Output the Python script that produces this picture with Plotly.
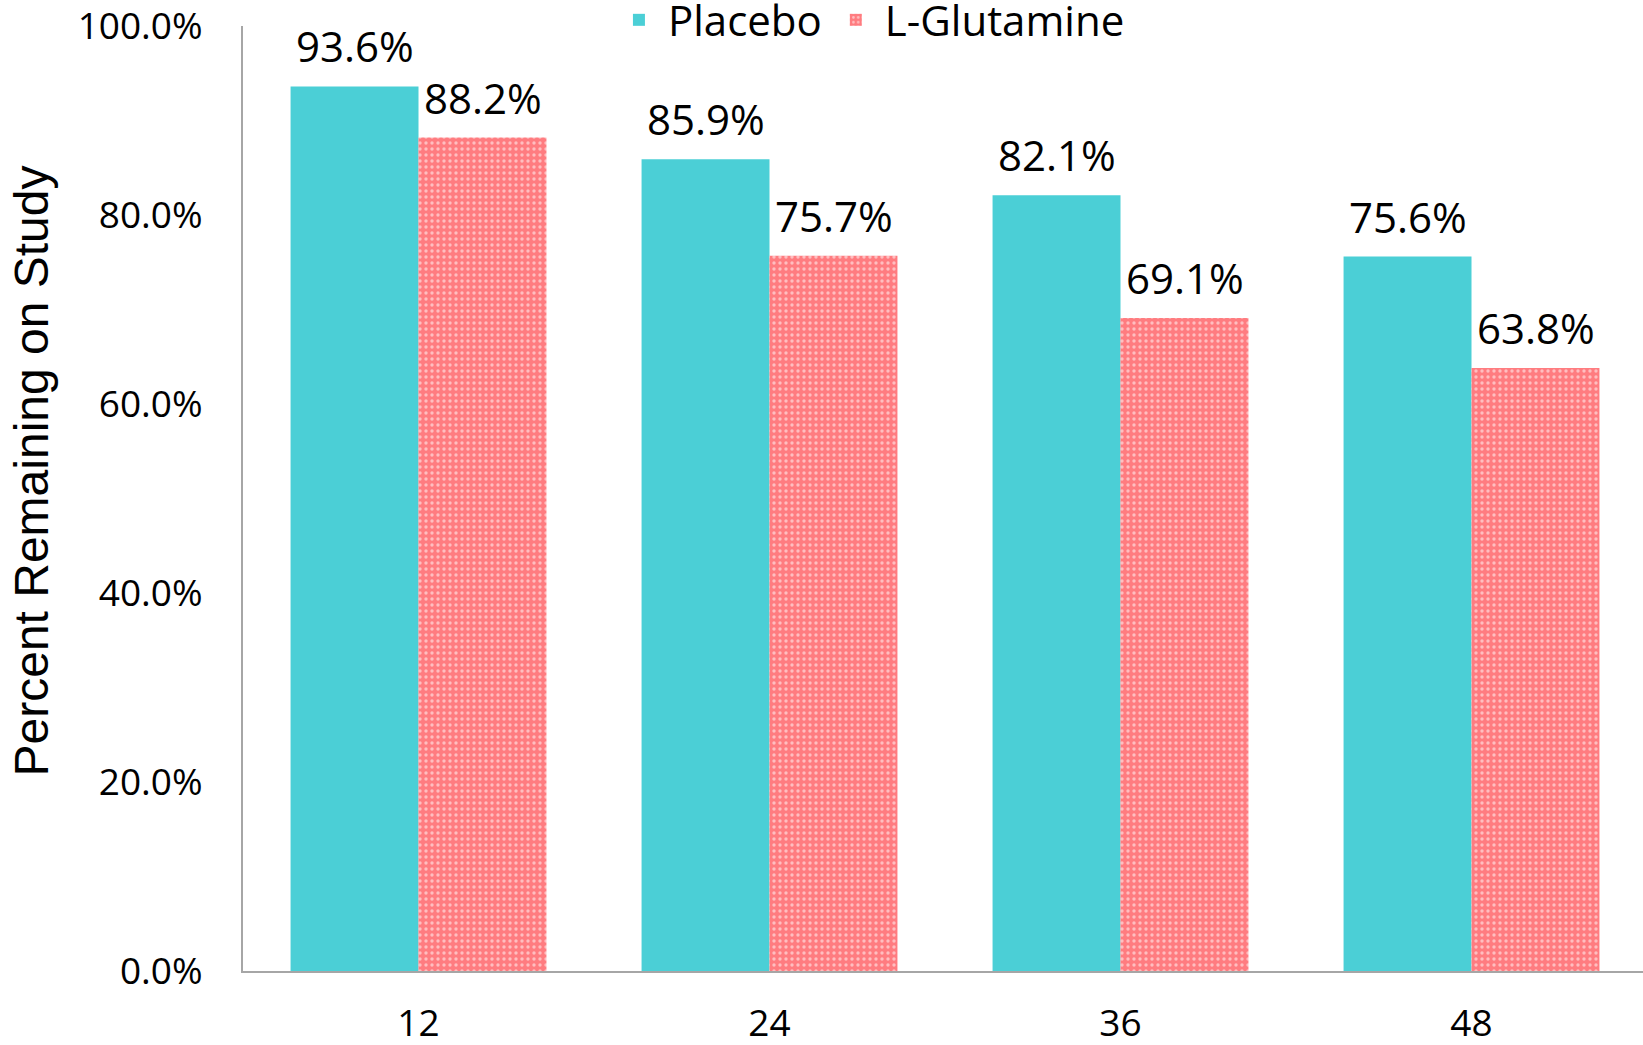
import plotly.graph_objects as go

weeks = ["12", "24", "36", "48"]
placebo = [93.6, 85.9, 82.1, 75.6]
glutamine = [88.2, 75.7, 69.1, 63.8]
y_tick_vals = [0, 20, 40, 60, 80, 100]
y_tick_text = ["0.0%", "20.0%", "40.0%", "60.0%", "80.0%", "100.0%"]

TEAL = "#4BCFD6"
SALMON = "#FF7C80"
FONT = "Open Sans"

fig = go.Figure()
fig.add_bar(x=weeks, y=placebo, name="Placebo",
            marker=dict(color=TEAL, line=dict(width=0)))
fig.add_bar(x=weeks, y=glutamine, name="L-Glutamine",
            marker=dict(color=SALMON, line=dict(width=0),
                        pattern=dict(shape=".", fgcolor="white", bgcolor=SALMON,
                                     size=6, solidity=0.25)))

annotations = []
for i, w in enumerate(weeks):
    for vals, dx in ((placebo, -64), (glutamine, 64)):
        annotations.append(dict(x=i, y=vals[i], xref="x", yref="y",
                                text=f"{vals[i]:.1f}%", showarrow=False,
                                xshift=dx, yshift=10, yanchor="bottom",
                                font=dict(family=FONT, size=42, color="black")))
annotations.append(dict(text="Percent Remaining on Study", xref="paper", yref="paper",
                        x=-0.1514, y=0.5286, xanchor="center", yanchor="middle",
                        textangle=-90, showarrow=False,
                        font=dict(family="Liberation Sans", size=48, color="black")))

fig.update_layout(
    width=1643, height=1045,
    margin=dict(l=243, r=0, t=26, b=74, autoexpand=False),
    plot_bgcolor="white", paper_bgcolor="white",
    barmode="group", bargap=0.271, bargroupgap=0,
    font=dict(family=FONT, color="black"),
    showlegend=True,
    legend=dict(orientation="h", x=0.2621, xanchor="left", y=1.0423, yanchor="top",
                font=dict(family=FONT, size=42, color="black"),
                bgcolor="rgba(0,0,0,0)", itemwidth=48),
    annotations=annotations,
    xaxis=dict(type="category", range=[-0.5, 3.4886], showline=True,
               linecolor="#A6A6A6", linewidth=2, ticks="", showgrid=False,
               automargin=False, ticklabeloverflow="allow",
               tickfont=dict(family=FONT, size=37), ticklabelstandoff=19),
    yaxis=dict(range=[0, 100], tickvals=y_tick_vals, ticktext=y_tick_text,
               showline=True, linecolor="#A6A6A6", linewidth=2, ticks="",
               showgrid=False, zeroline=False, automargin=False,
               ticklabeloverflow="allow",
               tickfont=dict(family=FONT, size=37), ticklabelstandoff=31),
)

fig.write_html("out.html")
